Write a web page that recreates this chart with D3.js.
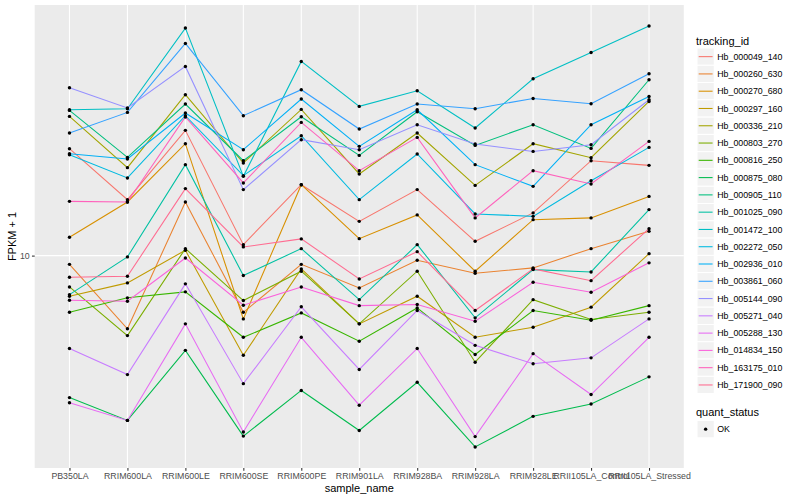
<!DOCTYPE html>
<html><head><meta charset="utf-8">
<script src="https://cdn.jsdelivr.net/npm/d3@7"></script>
<style>body{margin:0;background:#fff}text{font-family:"Liberation Sans",Arial,Helvetica,sans-serif}</style>
</head><body><svg id="c" width="800" height="500"></svg>
<script>
const categories = ["PB350LA","RRIM600LA","RRIM600LE","RRIM600SE","RRIM600PE","RRIM901LA","RRIM928BA","RRIM928LA","RRIM928LE","RRII105LA_Control","RRII105LA_Stressed"];
const trackingIds = ["Hb_000049_140","Hb_000260_630","Hb_000270_680","Hb_000297_160","Hb_000336_210","Hb_000803_270","Hb_000816_250","Hb_000875_080","Hb_000905_110","Hb_001025_090","Hb_001472_100","Hb_002272_050","Hb_002936_010","Hb_003861_060","Hb_005144_090","Hb_005271_040","Hb_005288_130","Hb_014834_150","Hb_163175_010","Hb_171900_090"];
const colors = ["#F8766D","#EA8331","#D89000","#C09B00","#A3A500","#7CAE00","#39B600","#00BB4E","#00BF7D","#00C1A3","#00BFC4","#00BAE0","#00B0F6","#35A2FF","#9590FF","#C77CFF","#E76BF3","#FA62DB","#FF62BC","#FF6C91"];
const quantStatus = ["OK"];
const yTicks = [10];

// FPKM + 1 values, one array per tracking_id, in category order
const hb_000049_140 = [22.73, 15.37, 26.17, 10.88, 17.24, 13.01, 16.60, 11.16, 13.88, 20.73, 20.00];
const hb_000260_630 = [9.35, 5.70, 15.10, 6.47, 9.35, 7.80, 9.65, 8.73, 9.10, 10.55, 12.05];
const hb_000270_680 = [11.51, 15.10, 23.62, 6.15, 17.24, 11.39, 13.67, 8.87, 13.18, 13.36, 15.76];
const hb_000297_160 = [7.32, 8.11, 10.42, 4.65, 9.03, 5.92, 7.32, 5.34, 5.77, 6.73, 10.15];
const hb_000336_210 = [29.13, 19.65, 34.41, 20.37, 30.74, 18.72, 25.64, 17.15, 23.62, 21.21, 32.68];
const hb_000803_270 = [7.86, 5.41, 10.55, 7.08, 8.87, 5.92, 8.87, 4.41, 7.13, 6.12, 6.47];
const hb_000816_250 = [6.47, 7.23, 7.57, 5.34, 6.44, 5.18, 6.69, 4.68, 6.56, 6.09, 6.81];
const hb_000875_080 = [3.36, 2.82, 4.83, 2.50, 3.55, 2.61, 3.78, 2.30, 2.91, 3.20, 3.94];
const hb_000905_110 = [30.51, 21.26, 32.04, 20.73, 29.06, 21.59, 30.20, 23.31, 27.33, 22.78, 38.61];
const hb_001025_090 = [7.41, 9.90, 20.11, 8.58, 10.55, 7.13, 10.88, 6.20, 8.98, 8.82, 14.24];
const hb_001472_100 = [30.66, 30.90, 57.41, 18.38, 44.43, 31.46, 35.48, 26.65, 38.90, 47.61, 58.31];
const hb_002272_050 = [21.71, 18.16, 29.29, 18.48, 25.12, 15.37, 21.83, 13.77, 13.52, 17.78, 22.96];
const hb_002936_010 = [21.88, 21.01, 29.90, 22.56, 33.29, 23.14, 30.66, 20.11, 17.02, 27.33, 33.96];
const hb_003861_060 = [25.65, 30.04, 51.01, 29.29, 35.76, 26.44, 32.04, 30.90, 33.44, 32.11, 40.42];
const hb_005144_090 = [36.31, 31.07, 42.76, 16.60, 24.36, 22.56, 27.33, 23.57, 22.26, 23.44, 33.11];
const hb_005271_040 = [4.90, 4.01, 8.05, 3.74, 6.75, 4.17, 6.56, 5.02, 4.36, 4.56, 6.15];
const hb_005288_130 = [3.23, 2.82, 5.92, 2.58, 5.34, 3.17, 4.90, 2.49, 4.71, 3.44, 5.34];
const hb_014834_150 = [7.10, 7.04, 9.82, 6.83, 7.86, 6.81, 6.87, 6.04, 8.15, 7.55, 9.46];
const hb_163175_010 = [15.17, 15.10, 29.00, 17.47, 27.82, 19.20, 24.79, 13.36, 19.20, 17.34, 24.04];
const hb_171900_090 = [8.47, 8.53, 16.73, 10.69, 11.37, 8.36, 10.31, 6.56, 9.03, 8.25, 12.30];

const seriesValues = [hb_000049_140, hb_000260_630, hb_000270_680, hb_000297_160, hb_000336_210, hb_000803_270, hb_000816_250, hb_000875_080, hb_000905_110, hb_001025_090, hb_001472_100, hb_002272_050, hb_002936_010, hb_003861_060, hb_005144_090, hb_005271_040, hb_005288_130, hb_014834_150, hb_163175_010, hb_171900_090];
const series = trackingIds.map((id, i) => ({id, color: colors[i], values: seriesValues[i]}));

const svg = d3.select("#c");
const P = {l: 34.7, r: 683.8, t: 5, b: 468};

const x = d3.scalePoint().domain(categories).range([P.l, P.r]).padding(0.6);
const all = series.flatMap(s => s.values);
const lo = Math.log10(d3.min(all)), hi = Math.log10(d3.max(all));
const ex = (hi - lo) * 0.05;
const y = d3.scaleLog().domain([Math.pow(10, lo - ex), Math.pow(10, hi + ex)]).range([P.b, P.t]);

svg.append("rect").attr("x", P.l).attr("y", P.t).attr("width", P.r - P.l).attr("height", P.b - P.t).attr("fill", "#EBEBEB");

const grid = svg.append("g");
grid.selectAll("line.v").data(categories).join("line")
  .attr("x1", d => x(d)).attr("x2", d => x(d)).attr("y1", P.t).attr("y2", P.b)
  .attr("stroke", "#fff").attr("stroke-width", 1.07);
grid.selectAll("line.h").data(yTicks).join("line")
  .attr("x1", P.l).attr("x2", P.r).attr("y1", d => y(d)).attr("y2", d => y(d))
  .attr("stroke", "#fff").attr("stroke-width", 1.07);

const line = d3.line().x((d, i) => x(categories[i])).y(d => y(d));
svg.append("g").selectAll("path").data(series).join("path")
  .attr("d", d => line(d.values)).attr("fill", "none")
  .attr("stroke", d => d.color).attr("stroke-width", 1.07);

const pts = series.flatMap(s => s.values.map((v, i) => ({c: categories[i], v})));
svg.append("g").selectAll("circle").data(pts).join("circle")
  .attr("cx", d => x(d.c)).attr("cy", d => y(d.v)).attr("r", 1.7).attr("fill", "#000");

// axes
const xa = svg.append("g").attr("transform", `translate(0,${P.b})`)
  .call(d3.axisBottom(x).tickSize(2.75).tickPadding(2.2));
xa.select(".domain").remove();
xa.selectAll(".tick line").attr("stroke", "#333").attr("stroke-width", 1.07);
xa.selectAll(".tick text").attr("fill", "#4D4D4D").style("font-size", "8.8px").style("font-family", '"Liberation Sans",Arial,sans-serif');

const ya = svg.append("g").attr("transform", `translate(${P.l},0)`)
  .call(d3.axisLeft(y).tickValues(yTicks).tickFormat(d3.format("d")).tickSize(2.75).tickPadding(2.2));
ya.select(".domain").remove();
ya.selectAll(".tick line").attr("stroke", "#333").attr("stroke-width", 1.07);
ya.selectAll(".tick text").attr("fill", "#4D4D4D").style("font-size", "8.8px").style("font-family", '"Liberation Sans",Arial,sans-serif');

svg.append("text").attr("x", (P.l + P.r) / 2).attr("y", 492).attr("text-anchor", "middle")
  .style("font-size", "11px").text("sample_name");
svg.append("text").attr("transform", `translate(16,${(P.t + P.b) / 2}) rotate(-90)`).attr("text-anchor", "middle")
  .style("font-size", "11px").text("FPKM + 1");

// legends
const lg = svg.append("g");
lg.append("text").attr("x", 696).attr("y", 44.5).style("font-size", "11px").text("tracking_id");
const keyH = 17.28, key0 = 48;
const items = lg.selectAll("g.item").data(series).join("g").attr("transform", (d, i) => `translate(697,${key0 + i * keyH})`);
items.append("rect").attr("width", keyH).attr("height", keyH).attr("fill", "#F2F2F2").attr("stroke", "#fff");
items.append("line").attr("x1", 1.7).attr("x2", keyH - 1.7).attr("y1", keyH / 2).attr("y2", keyH / 2)
  .attr("stroke", d => d.color).attr("stroke-width", 1.07);
items.append("text").attr("x", keyH + 3).attr("y", keyH / 2).attr("dy", "0.35em").style("font-size", "8.8px").text(d => d.id);

lg.append("text").attr("x", 696).attr("y", 416).style("font-size", "11px").text("quant_status");
const q = lg.selectAll("g.q").data(quantStatus).join("g").attr("transform", (d, i) => `translate(697,${420.5 + i * keyH})`);
q.append("rect").attr("width", keyH).attr("height", keyH).attr("fill", "#F2F2F2").attr("stroke", "#fff");
q.append("circle").attr("cx", keyH / 2).attr("cy", keyH / 2).attr("r", 1.7).attr("fill", "#000");
q.append("text").attr("x", keyH + 3).attr("y", keyH / 2).attr("dy", "0.35em").style("font-size", "8.8px").text(d => d);
</script></body></html>
